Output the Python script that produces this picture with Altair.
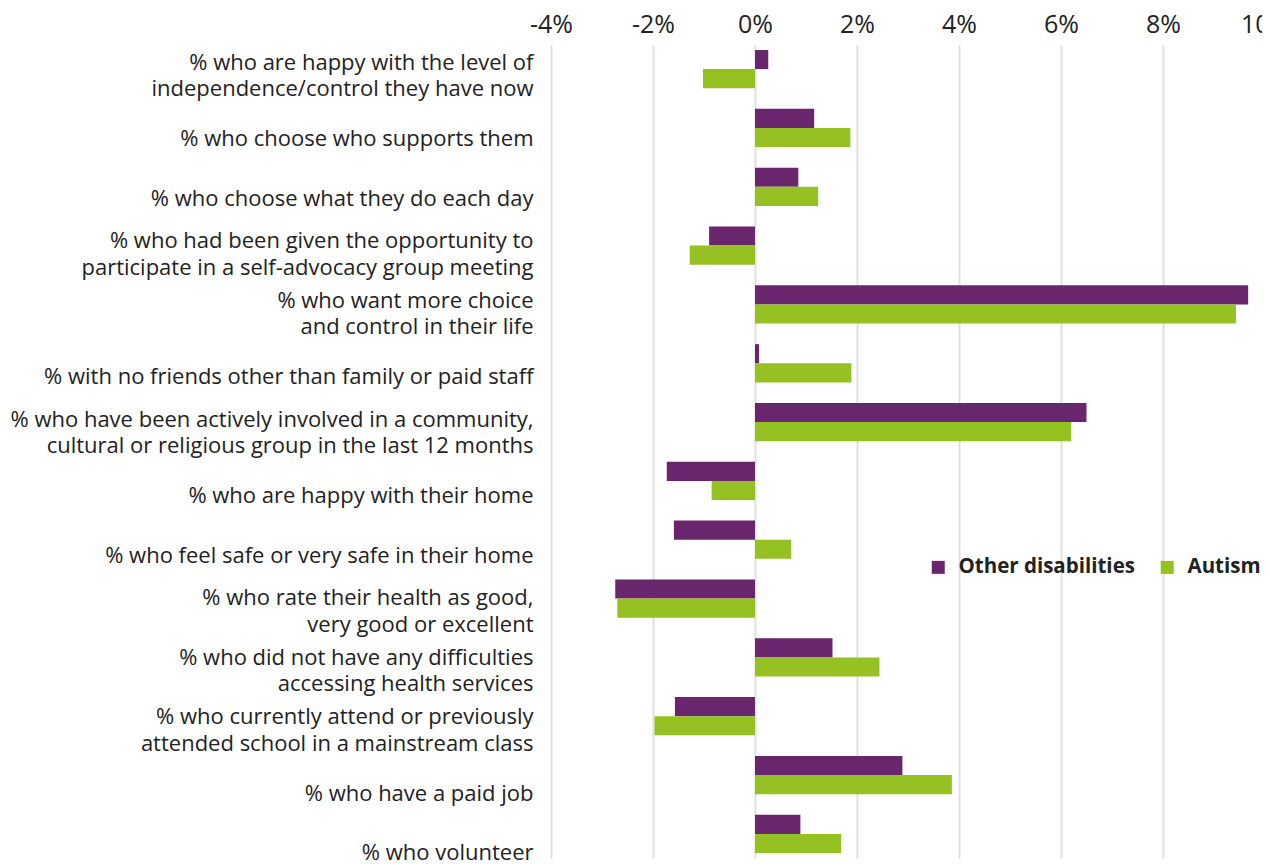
import altair as alt
import pandas as pd

categories = [
    "% who are happy with the level of|independence/control they have now",
    "% who choose who supports them",
    "% who choose what they do each day",
    "% who had been given the opportunity to|participate in a self-advocacy group meeting",
    "% who want more choice|and control in their life",
    "% with no friends other than family or paid staff",
    "% who have been actively involved in a community,|cultural or religious group in the last 12 months",
    "% who are happy with their home",
    "% who feel safe or very safe in their home",
    "% who rate their health as good,|very good or excellent",
    "% who did not have any difficulties|accessing health services",
    "% who currently attend or previously|attended school in a mainstream class",
    "% who have a paid job",
    "% who volunteer",
]
other_disabilities = [0.26, 1.16, 0.85, -0.90, 9.67, 0.08, 6.50, -1.73, -1.59, -2.74, 1.52, -1.57, 2.89, 0.89]
autism = [-1.02, 1.87, 1.24, -1.28, 9.43, 1.89, 6.20, -0.85, 0.71, -2.70, 2.44, -1.97, 3.86, 1.69]
series = ["Other disabilities", "Autism"]
x_ticks = [-4, -2, 0, 2, 4, 6, 8, 10]

rows = []
for c, o, a in zip(categories, other_disabilities, autism):
    rows.append({"category": c, "series": series[0], "value": o})
    rows.append({"category": c, "series": series[1], "value": a})
df = pd.DataFrame(rows)
labels_df = pd.DataFrame({"category": categories})

FONT = "Open Sans"
TEXT = "#222222"

bars = alt.Chart(df).mark_bar().encode(
    y=alt.Y(
        "category:N",
        sort=categories,
        title=None,
        scale=alt.Scale(paddingInner=0.35, paddingOuter=0.085),
        axis=None,
    ),
    yOffset=alt.YOffset("series:N", sort=series),
    x=alt.X(
        "value:Q",
        title=None,
        scale=alt.Scale(domain=[-4, 10], nice=False, range=[0, 714]),
        axis=alt.Axis(
            orient="top",
            values=x_ticks,
            labelExpr="datum.value + '%'",
            labelFont=FONT,
            labelFontSize=25,
            labelColor=TEXT,
            labelPadding=8,
            labelFlush=False,
            labelOverlap=False,
            ticks=False,
            domain=False,
            grid=True,
            gridColor="#e0e0e0",
            gridWidth=2,
        ),
    ),
    color=alt.Color(
        "series:N",
        sort=series,
        scale=alt.Scale(domain=series, range=["#6a266d", "#95c123"]),
        legend=alt.Legend(
            title=None,
            orient="none",
            legendX=377,
            legendY=512,
            direction="horizontal",
            symbolType="square",
            symbolSize=169,
            symbolStrokeWidth=0,
            symbolOpacity=1,
            labelFont=FONT,
            labelFontSize=20.5,
            labelFontWeight="bold",
            labelColor=TEXT,
            labelOffset=10,
            columnPadding=22,
            labelLimit=0,
        ),
    ),
)

label_axis = alt.Chart(labels_df).mark_point(opacity=0).encode(
    y=alt.Y(
        "category:N",
        sort=categories,
        title=None,
        scale=alt.Scale(type="point", padding=0, range=[30, 803.5]),
        axis=alt.Axis(
            orient="left",
            labelExpr="split(datum.label, '|')",
            labelFont=FONT,
            labelFontSize=22,
            labelColor=TEXT,
            labelLineHeight=26.5,
            labelPadding=18,
            labelLimit=0,
            labelOverlap=False,
            labelOffset={"condition": {"test": "indexof(datum.value, '|') >= 0", "value": -13}, "value": 4},
            ticks=False,
            domain=False,
            grid=False,
        ),
    ),
)

chart = alt.layer(bars, label_axis).resolve_scale(y="independent").properties(
    width=711,
    height=813,
    autosize=alt.AutoSizeParams(type="none"),
    padding={"left": 543, "top": 37, "right": 0, "bottom": 16},
).configure_view(stroke=None)

chart.save("out.html", embed_options={"renderer": "svg", "actions": False})
